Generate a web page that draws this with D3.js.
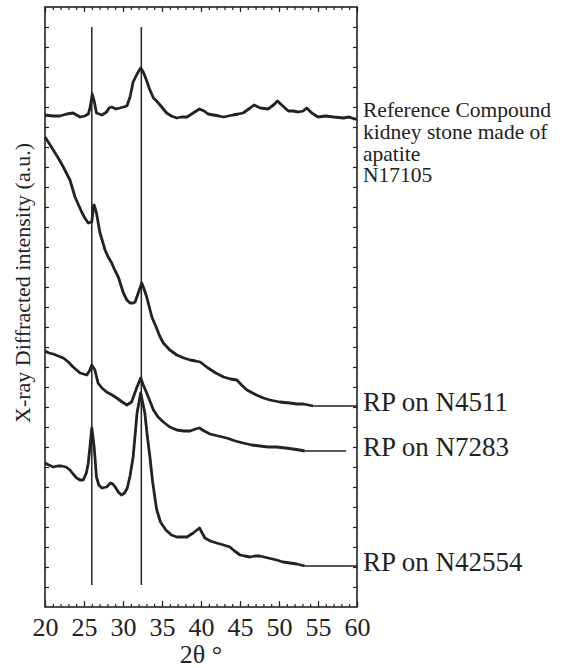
<!DOCTYPE html>
<html>
<head>
<meta charset="utf-8">
<script src="https://cdn.jsdelivr.net/npm/d3@7"></script>
<style>
	body{margin:0;background:#fff;}
	svg{display:block;}
</style>
</head>
<body>
<svg id="chart" width="569" height="668"></svg>
<script>
// [2theta, intensity a.u.]
const refN17105 = [[20,492],[21.0,491],[21.9,491],[22.8,493],[23.6,494],[24.5,490],[25.1,491],[25.55,493],[25.8,500],[26.06,513],[26.3,506],[26.6,494],[27.3,492],[27.9,495],[28.2,499],[28.55,500],[29.1,498],[29.6,499],[30.5,501],[30.9,510],[31.3,525],[31.8,533],[32.27,539],[32.6,535],[33.0,527],[33.4,518],[33.9,509],[34.3,506],[34.75,502],[35.6,494],[36.2,491],[36.9,489],[37.5,490],[38.2,490],[39.0,494],[39.8,498],[40.4,496],[40.9,493],[41.6,492],[42.3,491],[42.9,490],[43.5,491],[44.1,492],[44.8,493],[45.4,494],[46.3,499],[46.8,502],[47.6,499],[48.6,498],[49.3,502],[49.8,506],[50.35,502],[51.2,496],[51.8,496],[52.5,495],[53.1,496],[53.55,499],[54.2,494],[55.0,490],[56.0,491],[57.0,490],[58.25,489],[59.0,490],[59.7,488],[60,488]];
const rpN4511 = [[20,470],[20.5,464],[21.06,457],[21.7,449],[22.35,440],[23.2,427],[23.85,410],[24.3,402],[24.7,395],[25.1,389],[25.55,384],[26.0,385],[26.2,400],[26.3,402],[26.6,394],[27.05,374],[27.7,357],[28.1,350],[28.55,344],[29.0,336],[29.4,330],[30.05,314],[30.5,307],[30.9,304],[31.3,304],[31.55,305],[32.0,315],[32.4,324],[32.7,318],[33.04,310],[33.7,290],[34.3,279],[34.7,271],[35.17,264],[36.0,257],[36.9,252],[37.8,249],[38.6,247],[39.3,246],[39.9,245],[40.9,239],[41.9,234],[42.9,230],[43.8,228],[44.6,227],[45.2,222],[45.9,217],[47.1,212],[48.0,209],[48.85,207],[50.1,205],[51.4,204],[52.3,203],[53.1,203],[54.4,201]];
const rpN7283 = [[20,256],[20.5,254],[21.06,253],[21.7,251],[22.35,249],[23.0,245],[23.6,240],[24.5,234],[25.35,232],[25.7,236],[26.0,242],[26.4,237],[26.8,224],[27.3,219],[27.9,215],[28.6,212],[29.2,209],[29.9,205],[30.5,202],[31.1,205],[31.75,219],[32.27,229],[32.6,222],[33.04,214],[33.9,197],[34.5,190],[35.17,185],[36.0,180],[36.9,177],[37.8,176],[38.6,176],[39.3,178],[39.8,179],[40.4,176],[41.15,173],[42.2,171],[43.3,169],[44.4,166],[45.4,164],[46.5,162],[47.55,161],[48.6,160],[49.7,160],[50.8,159],[51.8,158],[52.6,157],[53.3,156]];
const rpN42554 = [[20,144],[20.5,142],[21.06,140],[21.6,141],[22.1,141],[22.7,140],[23.2,137],[23.6,133],[24.06,129],[24.5,127],[24.9,127],[25.3,134],[25.55,144],[25.8,163],[26.0,179],[26.3,160],[26.6,130],[26.9,122],[27.3,119],[27.9,120],[28.4,124],[28.7,123],[29.0,120],[29.4,115],[29.8,112],[30.2,114],[30.55,119],[30.9,131],[31.3,150],[31.8,194],[32.27,214],[32.8,194],[33.1,172],[33.45,150],[33.8,125],[34.3,98],[34.8,85],[35.5,77],[36.2,72],[36.9,70],[37.6,70],[38.2,70],[39.0,74],[39.8,79],[40.5,69],[41.2,66],[42.0,64],[42.9,62],[43.7,60],[44.3,56],[45.0,52],[45.6,51],[46.3,50],[46.9,51],[47.55,51],[48.6,49],[49.7,47],[50.5,45],[51.4,44],[52.3,43],[53.3,41]];

const seriesNames = ["Reference Compound|kidney stone made of|apatite|N17105","RP on N4511","RP on N7283","RP on N42554"];
const leaderEnds = [60, 60, 58.6, 60];
const refPeaks = [26.0, 32.35];
const refPeakSpan = [22, 580];
const xTicks = [20,25,30,35,40,45,50,55,60];

const serif = "Liberation Serif";
const ink = "#222";

function render(){
	const margin = {top:7, right:212, bottom:61, left:45};
	const svg = d3.select("#chart");
	const width = +svg.attr("width") - margin.left - margin.right;
	const height = +svg.attr("height") - margin.top - margin.bottom;
	const g = svg.append("g").attr("transform",`translate(${margin.left},${margin.top})`);

	const x = d3.scaleLinear().domain([20,60]).range([0,width]);
	const y = d3.scaleLinear().domain([0,600]).range([height,0]);
	const minorX = d3.range(20,61,1);
	const minorY = d3.range(20,600,20);

	// inward ticks on all four sides
	const tickStyle = sel => {
		sel.attr("font-family",serif);
		sel.select(".domain").remove();
		sel.selectAll("line").attr("stroke",ink).attr("stroke-width",1.2);
	};
	g.append("g").attr("transform",`translate(0,${height})`)
		.call(d3.axisBottom(x).tickValues(minorX).tickSize(-3).tickFormat(""))
		.call(tickStyle);
	g.append("g").attr("transform",`translate(0,${height})`)
		.call(d3.axisBottom(x).tickValues(xTicks).tickSize(-6).tickPadding(11).tickFormat(d3.format("d")))
		.call(tickStyle)
		.selectAll("text")
			.attr("font-family",serif)
			.attr("font-size",26).attr("fill",ink).attr("dy","0.71em");
	g.append("g")
		.call(d3.axisTop(x).tickValues(minorX).tickSize(-3).tickFormat(""))
		.call(tickStyle);
	g.append("g")
		.call(d3.axisTop(x).tickValues(xTicks).tickSize(-5).tickFormat(""))
		.call(tickStyle);
	g.append("g")
		.call(d3.axisLeft(y).tickValues(minorY).tickSize(-4).tickFormat(""))
		.call(tickStyle);
	g.append("g").attr("transform",`translate(${width},0)`)
		.call(d3.axisRight(y).tickValues(minorY).tickSize(-4).tickFormat(""))
		.call(tickStyle);

	g.append("rect")
		.attr("width",width).attr("height",height)
		.attr("fill","none").attr("stroke",ink).attr("stroke-width",1.6);

	// reference peak positions
	g.selectAll("line.peak")
		.data(refPeaks)
		.join("line")
		.classed("peak",true)
		.attr("x1",d=>x(d)).attr("x2",d=>x(d))
		.attr("y1",y(refPeakSpan[1])).attr("y2",y(refPeakSpan[0]))
		.attr("stroke",ink).attr("stroke-width",1.5);

	const line = d3.line()
		.x(d => x(d[0]))
		.y(d => y(d[1]));
	const all = [refN17105, rpN4511, rpN7283, rpN42554];

	g.selectAll("path.xrd")
		.data(all)
		.join("path")
		.classed("xrd",true)
		.attr("fill","none")
		.attr("stroke",ink)
		.attr("stroke-width",2.8)
		.attr("stroke-linejoin","round")
		.attr("d",line);

	// leader lines out to the labels
	g.selectAll("line.leader")
		.data(all)
		.join("line")
		.classed("leader",true)
		.attr("x1",d=>x(d[d.length-1][0]))
		.attr("x2",(d,i)=>x(leaderEnds[i]))
		.attr("y1",d=>y(d[d.length-1][1]))
		.attr("y2",d=>y(d[d.length-1][1]))
		.attr("stroke",ink).attr("stroke-width",1.6);

	const labels = g.selectAll("text.lbl")
		.data(all)
		.join("text")
		.classed("lbl",true)
		.attr("font-family",serif)
		.attr("fill",ink)
		.attr("x",width+6)
		.attr("y",(d,i)=> i==0 ? y(d[d.length-1][1])-2 : y(d[d.length-1][1])+5)
		.attr("font-size",(d,i)=> i==0 ? 21.5 : 27);
	labels.selectAll("tspan")
		.data((d,i)=>seriesNames[i].split("|"))
		.join("tspan")
		.attr("x",width+6)
		.attr("dy",(d,i)=> i==0 ? 0 : 21.8)
		.text(d=>d);

	svg.append("text")
		.attr("font-family",serif)
		.attr("fill",ink)
		.attr("transform",`translate(30,${margin.top+276}) rotate(-90)`)
		.attr("text-anchor","middle")
		.attr("font-size",22)
		.text("X-ray Diffracted intensity (a.u.)");

	svg.append("text")
		.attr("font-family",serif)
		.attr("fill",ink)
		.attr("x",margin.left+width/2)
		.attr("y",663)
		.attr("text-anchor","middle")
		.attr("font-size",26)
		.text("2θ °");
}
render();
</script>
</body>
</html>
